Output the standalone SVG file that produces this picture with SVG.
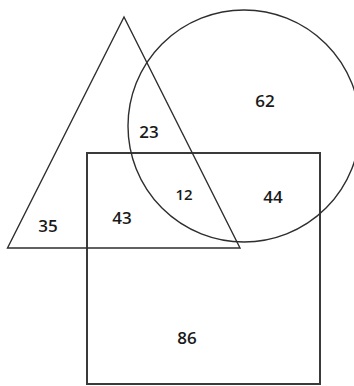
<svg xmlns="http://www.w3.org/2000/svg" width="354" height="386" viewBox="0 0 354 386">
<style>
.shape{fill:none;stroke:#2e2e2e;stroke-width:1.4}
.rect{fill:none;stroke:#3a3a3a;stroke-width:2}
.num{font-family:"Open Sans","Noto Sans",sans-serif;font-size:17px;font-weight:600;fill:#1a1a1a;text-anchor:middle;dominant-baseline:central}
.small{font-size:15px}
</style>
<rect width="354" height="386" fill="#ffffff"/>
<g id="rectangle"><rect class="rect" x="87" y="153" width="233" height="231"/></g>
<g id="circle"><circle class="shape" cx="244" cy="126" r="116"/></g>
<g id="triangle"><polygon class="shape" points="124,17 7.5,248 240,248"/></g>
<g id="labels">
<text class="num" x="265" y="100">62</text>
<text class="num" x="149" y="131">23</text>
<text class="num small" x="184" y="194">12</text>
<text class="num" x="273" y="196">44</text>
<text class="num" x="122" y="217">43</text>
<text class="num" x="48" y="225">35</text>
<text class="num" x="187" y="337">86</text>
</g>
</svg>
